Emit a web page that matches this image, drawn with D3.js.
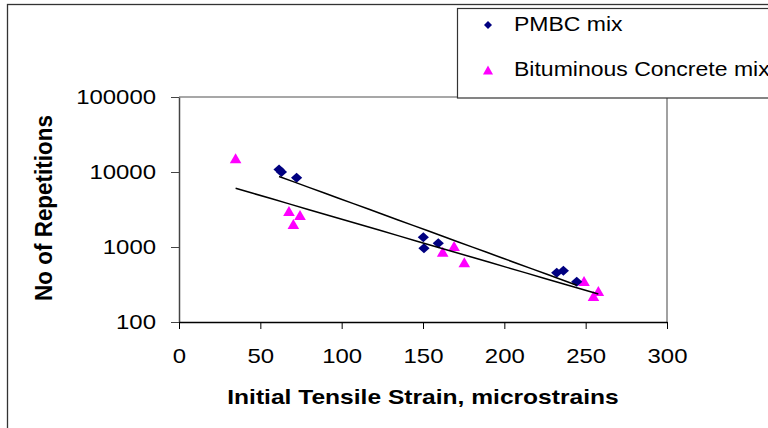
<!DOCTYPE html>
<html>
<head>
<meta charset="utf-8">
<script src="https://cdn.jsdelivr.net/npm/d3@7"></script>
<style>
  body { margin: 0; background: #fff; }
  text { font-family: "Liberation Sans", Arial, sans-serif; fill: #000; }
</style>
</head>
<body>
<div id="chart"></div>
<script>
// data
const pmbcStrain = [61.5, 63, 72.3, 150.2, 150.6, 159.4, 232.2, 236.3, 244.5];
const pmbcReps = [10800, 10000, 8400, 1346, 962, 1119, 454, 483, 344];
const bcStrain = [34.8, 67.6, 74.4, 70.3, 162.1, 169.1, 175.4, 249, 257.8, 254.8];
const bcReps = [15200, 3020, 2670, 2027, 866, 1031, 625, 352, 259, 222];
const xTicks = [0, 50, 100, 150, 200, 250, 300];
const yTicks = [100, 1000, 10000, 100000];
const seriesNames = ["PMBC mix", "Bituminous Concrete mix"];

const width = 768, height = 428;
const plot = { left: 179, right: 667, top: 97, bottom: 322 };

const svg = d3.select("#chart").append("svg")
    .attr("width", width)
    .attr("height", height);

// text in the picture is a bit wider than Arial, stretch it
function stretch(sel, k) {
    sel.each(function() {
        const len = this.getComputedTextLength();
        d3.select(this).attr("textLength", len * k).attr("lengthAdjust", "spacingAndGlyphs");
    });
}

// outer chart frame (cut off at right and bottom)
svg.append("rect")
    .attr("x", 7.5).attr("y", 4.5)
    .attr("width", 900).attr("height", 600)
    .attr("fill", "none")
    .attr("stroke", "#333")
    .attr("stroke-width", 1.3);

const x = d3.scaleLinear().domain([0, 300]).range([plot.left, plot.right]);
const y = d3.scaleLog().domain([100, 100000]).range([plot.bottom, plot.top]);

// plot area border (top and right)
svg.append("path")
    .attr("d", `M${plot.left},${plot.top}H${plot.right}V${plot.bottom}`)
    .attr("fill", "none")
    .attr("stroke", "#8a8a8a")
    .attr("stroke-width", 1.6);

// y axis
const yAxis = svg.append("g")
    .attr("transform", `translate(${plot.left},0)`)
    .call(d3.axisLeft(y).tickValues(yTicks).tickFormat(d3.format("d"))
        .tickSize(8).tickSizeOuter(0).tickPadding(15));
yAxis.select(".domain").attr("stroke", "#444").attr("stroke-width", 1.5);
yAxis.selectAll(".tick line").attr("stroke", "#444");
yAxis.selectAll(".tick text")
    .style("font-size", "21px")
    .call(stretch, 1.14);

// x axis
const xAxis = svg.append("g")
    .attr("transform", `translate(0,${plot.bottom})`)
    .call(d3.axisBottom(x).tickValues(xTicks).tickSize(7).tickSizeOuter(0));
xAxis.select(".domain").attr("stroke", "#000").attr("stroke-width", 1.3);
xAxis.selectAll(".tick line").attr("stroke", "#000");
xAxis.selectAll(".tick text")
    .attr("y", 41).attr("dy", null)
    .style("font-size", "21px")
    .call(stretch, 1.14);

// axis titles
svg.append("text")
    .attr("x", (plot.left + plot.right) / 2)
    .attr("y", 404)
    .attr("text-anchor", "middle")
    .style("font-size", "21px")
    .style("font-weight", "bold")
    .text("Initial Tensile Strain, microstrains")
    .call(stretch, 1.17);

svg.append("text")
    .attr("transform", "translate(52,208) rotate(-90) scale(1,1.15)")
    .attr("text-anchor", "middle")
    .style("font-size", "21px")
    .style("font-weight", "bold")
    .text("No of Repetitions")
    .call(stretch, 1.07);

// markers
const diamond = (w, h) => `M0,${-h}L${w},0L0,${h}L${-w},0Z`;
const triangle = (w, h) => `M0,${-h}L${w},${h}L${-w},${h}Z`;

const pmbc = pmbcStrain.map((s, i) => ({ x: s, y: pmbcReps[i] }));
const bc = bcStrain.map((s, i) => ({ x: s, y: bcReps[i] }));

svg.append("g")
    .selectAll("path")
    .data(bc)
    .join("path")
    .attr("d", triangle(5.8, 5))
    .attr("transform", d => `translate(${x(d.x)},${y(d.y)})`)
    .attr("fill", "#ff00ff");

svg.append("g")
    .selectAll("path")
    .data(pmbc)
    .join("path")
    .attr("d", diamond(5.6, 5))
    .attr("transform", d => `translate(${x(d.x)},${y(d.y)})`)
    .attr("fill", "#000080");

// exponential trendlines (least squares on log10 of repetitions)
function expFit(pts) {
    const mx = d3.mean(pts, d => d.x);
    const my = d3.mean(pts, d => Math.log10(d.y));
    const sxy = d3.sum(pts, d => (d.x - mx) * (Math.log10(d.y) - my));
    const sxx = d3.sum(pts, d => (d.x - mx) ** 2);
    const b = sxy / sxx;
    const a = my - b * mx;
    const [x0, x1] = d3.extent(pts, d => d.x);
    return d3.range(0, 21).map(i => {
        const xv = x0 + (x1 - x0) * i / 20;
        return { x: xv, y: Math.pow(10, a + b * xv) };
    });
}

const line = d3.line().x(d => x(d.x)).y(d => y(d.y));
[pmbc, bc].forEach(pts => {
    svg.append("path")
        .attr("d", line(expFit(pts)))
        .attr("fill", "none")
        .attr("stroke", "#000")
        .attr("stroke-width", 1.5);
});

// legend
const legend = svg.append("g");
legend.append("rect")
    .attr("x", 457.5).attr("y", 8.5)
    .attr("width", 400).attr("height", 89.5)
    .attr("fill", "#fff")
    .attr("stroke", "#333")
    .attr("stroke-width", 1.2);

const legendY = [25, 70];
legend.append("path")
    .attr("d", diamond(4, 4))
    .attr("transform", `translate(488,${legendY[0]})`)
    .attr("fill", "#000080");
legend.append("path")
    .attr("d", triangle(5, 4.5))
    .attr("transform", `translate(488,${legendY[1]})`)
    .attr("fill", "#ff00ff");

legend.selectAll("text.lbl")
    .data(seriesNames)
    .join("text")
    .attr("class", "lbl")
    .attr("x", 514)
    .attr("y", (d, i) => legendY[i] + 6)
    .style("font-size", "20px")
    .text(d => d)
    .call(stretch, 1.15);
</script>
</body>
</html>
